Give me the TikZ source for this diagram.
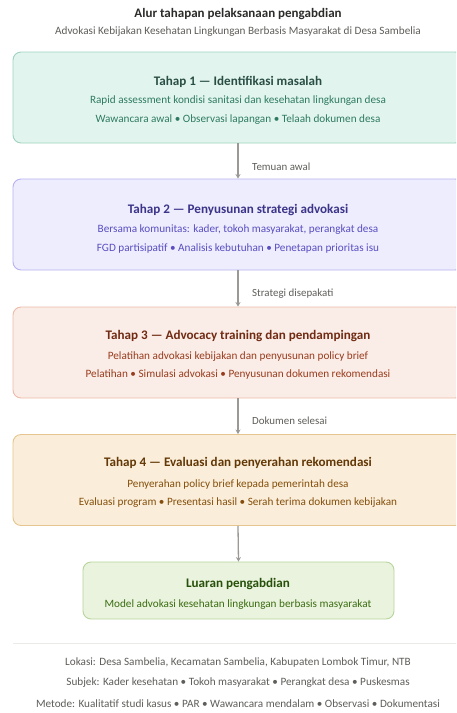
\documentclass[tikz,border=0pt]{standalone}
\usepackage{fontspec}
\setmainfont{Carlito}
\usetikzlibrary{arrows.meta}
\definecolor{ink}{HTML}{2C2C2A}
\definecolor{muted}{HTML}{5F5E5A}
\definecolor{arr}{HTML}{9A9996}
\definecolor{sepc}{HTML}{ECEBE8}
\definecolor{gfill}{HTML}{E1F5EE}\definecolor{gdraw}{HTML}{9FD3C0}\definecolor{gtit}{HTML}{2A4E44}\definecolor{gtxt}{HTML}{2F7A62}
\definecolor{pfill}{HTML}{EEEDFE}\definecolor{pdraw}{HTML}{B8B2F0}\definecolor{ptit}{HTML}{3C3489}\definecolor{ptxt}{HTML}{5A4EC0}
\definecolor{cfill}{HTML}{FAECE7}\definecolor{cdraw}{HTML}{EDBBA8}\definecolor{ctit}{HTML}{712B13}\definecolor{ctxt}{HTML}{993C1D}
\definecolor{afill}{HTML}{FAEEDA}\definecolor{adraw}{HTML}{E6C690}\definecolor{atit}{HTML}{633806}\definecolor{atxt}{HTML}{854F0B}
\definecolor{lfill}{HTML}{EAF3DE}\definecolor{ldraw}{HTML}{B8D59C}\definecolor{ltit}{HTML}{27500A}\definecolor{ltxt}{HTML}{3B6D11}
\tikzset{
  stage/.style={rectangle, rounded corners=8pt, line width=0.9pt, minimum width=450pt, minimum height=91pt, inner sep=0pt},
  outbox/.style={rectangle, rounded corners=8pt, line width=0.9pt, minimum width=311pt, minimum height=57pt, inner sep=0pt},
  ttl/.style={font=\fontsize{13.1}{15}\selectfont\bfseries, inner sep=0pt},
  bod/.style={font=\fontsize{11.2}{13}\selectfont, inner sep=0pt},
  lab/.style={font=\fontsize{10.9}{12}\selectfont, text=muted, inner sep=0pt, anchor=west},
  flow/.style={draw=arr, line width=1.3pt, -{Stealth[length=4.5pt,width=5pt]}}
}
\begin{document}
\begin{tikzpicture}[x=1pt,y=-1pt]
\useasboundingbox (0,0) rectangle (456,713);
\clip (0,0) rectangle (456,713);
\fill[white] (0,0) rectangle (456,713);
\node[font=\fontsize{13}{15}\selectfont\bfseries, text=ink, inner sep=0pt] (title) at (238,14) {Alur tahapan pelaksanaan pengabdian};
\node[bod, text=muted] (sub) at (238,32) {Advokasi Kebijakan Kesehatan Lingkungan Berbasis Masyarakat di Desa Sambelia};

\node[stage, fill=gfill, draw=gdraw] (b1) at (238,97.5) {};
\node[ttl, text=gtit] (t1) at (238,82) {Tahap 1 — Identifikasi masalah};
\node[bod, text=gtxt] (s1) at (238,101) {Rapid assessment kondisi sanitasi dan kesehatan lingkungan desa};
\node[bod, text=gtxt] (d1) at (238,120) {Wawancara awal • Observasi lapangan • Telaah dokumen desa};

\node[stage, fill=pfill, draw=pdraw] (b2) at (238,224.5) {};
\node[ttl, text=ptit] (t2) at (238,210) {Tahap 2 — Penyusunan strategi advokasi};
\node[bod, text=ptxt] (s2) at (238,230) {Bersama komunitas: kader, tokoh masyarakat, perangkat desa};
\node[bod, text=ptxt] (d2) at (238,249) {FGD partisipatif • Analisis kebutuhan • Penetapan prioritas isu};

\node[stage, fill=cfill, draw=cdraw] (b3) at (238,352.5) {};
\node[ttl, text=ctit] (t3) at (238,336) {Tahap 3 — Advocacy training dan pendampingan};
\node[bod, text=ctxt] (s3) at (238,357) {Pelatihan advokasi kebijakan dan penyusunan policy brief};
\node[bod, text=ctxt] (d3) at (238,375) {Pelatihan • Simulasi advokasi • Penyusunan dokumen rekomendasi};

\node[stage, fill=afill, draw=adraw] (b4) at (238,480) {};
\node[ttl, text=atit] (t4) at (238,463) {Tahap 4 — Evaluasi dan penyerahan rekomendasi};
\node[bod, text=atxt] (s4) at (238,485) {Penyerahan policy brief kepada pemerintah desa};
\node[bod, text=atxt] (d4) at (238,503) {Evaluasi program • Presentasi hasil • Serah terima dokumen kebijakan};

\node[outbox, fill=lfill, draw=ldraw] (b5) at (238.5,590.5) {};
\node[ttl, text=ltit] (t5) at (238,584) {Luaran pengabdian};
\node[bod, text=ltxt] (s5) at (238,605) {Model advokasi kesehatan lingkungan berbasis masyarakat};

\draw[flow] (b1.south) -- (b2.north);
\draw[flow] (b2.south) -- (b3.north);
\draw[flow] (b3.south) -- (b4.north);
\draw[flow] (b4.south) -- (b5.north);
\node[lab] (l1) at (252,167) {Temuan awal};
\node[lab] (l2) at (252,294) {Strategi disepakati};
\node[lab] (l3) at (252,421) {Dokumen selesai};

\coordinate (sepL) at (13,643);
\coordinate (sepR) at (463,643);
\draw[sepc, line width=0.8pt] (sepL) -- (sepR);
\node[bod, text=muted] (f1) at (238,663) {Lokasi: Desa Sambelia, Kecamatan Sambelia, Kabupaten Lombok Timur, NTB};
\node[bod, text=muted] (f2) at (238,683) {Subjek: Kader kesehatan • Tokoh masyarakat • Perangkat desa • Puskesmas};
\node[bod, text=muted] (f3) at (238,704) {Metode: Kualitatif studi kasus • PAR • Wawancara mendalam • Observasi • Dokumentasi};
\end{tikzpicture}
\end{document}
